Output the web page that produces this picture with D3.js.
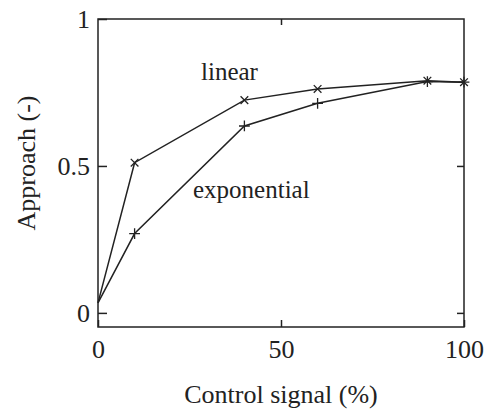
<!DOCTYPE html>
<html>
<head>
<meta charset="utf-8">
<script src="https://cdn.jsdelivr.net/npm/d3@7"></script>
<style>
  body { margin: 0; background: #fff; }
  svg text { font-family: "Liberation Serif", "DejaVu Serif", serif; fill: #222; }
</style>
</head>
<body>
<script>
//values
var controlSignal = [0, 10, 40, 60, 90, 100];
var linearApproach = [0.034, 0.511, 0.724, 0.762, 0.79, 0.785];
var expApproach = [0.034, 0.27, 0.636, 0.713, 0.787, 0.785];
var xTicks = [0, 50, 100];
var yTicks = [0, 0.5, 1];

(function(){

var width = 484, height = 414;
//plot box edges (note: "top" clashes with window.top, so prefixed)
var boxLeft = 98, boxRight = 464, boxTop = 19, boxBottom = 327;

var svg = d3.select("body").append("svg")
    .attr("width", width)
    .attr("height", height);

var x = d3.scaleLinear().domain([0, 100]).range([boxLeft, boxRight]);
var y = d3.scaleLinear().domain([-0.048, 1]).range([boxBottom, boxTop]);

//frame
svg.append("rect")
    .attr("x", boxLeft).attr("y", boxTop)
    .attr("width", boxRight - boxLeft).attr("height", boxBottom - boxTop)
    .attr("fill", "none").attr("stroke", "#222").attr("stroke-width", 1.5);

//axes with ticks pointing inward
svg.append("g")
    .attr("transform", "translate(0," + boxBottom + ")")
    .call(d3.axisBottom(x).tickValues(xTicks).tickFormat(d3.format("d"))
        .tickSizeInner(-7).tickSizeOuter(0).tickPadding(13));

svg.append("g")
    .attr("transform", "translate(" + boxLeft + ",0)")
    .call(d3.axisLeft(y).tickValues(yTicks).tickFormat(d3.format(""))
        .tickSizeInner(-9).tickSizeOuter(0).tickPadding(8));

svg.append("g")
    .attr("transform", "translate(" + boxRight + ",0)")
    .call(d3.axisRight(y).tickValues([0, 0.5]).tickFormat("")
        .tickSizeInner(-7).tickSizeOuter(0));

svg.append("g")
    .attr("transform", "translate(0," + boxTop + ")")
    .call(d3.axisTop(x).tickValues([50]).tickFormat("")
        .tickSizeInner(-6).tickSizeOuter(0));

svg.selectAll(".domain").remove();
svg.selectAll(".tick line").attr("stroke", "#222").attr("stroke-width", 1.5);
svg.selectAll(".tick text")
    .style("font-size", "26px")
    .style("font-family", "'Liberation Serif', serif")
    .attr("fill", "#222");

//axis titles
svg.append("text")
    .attr("x", 281).attr("y", 403)
    .attr("text-anchor", "middle")
    .style("font-size", "26px")
    .text("Control signal (%)");

svg.append("text")
    .attr("transform", "translate(35,163) rotate(-90)")
    .attr("text-anchor", "middle")
    .style("font-size", "26px")
    .text("Approach (-)");

//curves
var line = d3.line()
    .x(function(d){ return x(d[0]); })
    .y(function(d){ return y(d[1]); });

function drawSeries(vals, symbol){
    var pts = controlSignal.map(function(c, i){ return [c, vals[i]]; });
    svg.append("path")
        .datum(pts)
        .attr("d", line)
        .attr("fill", "none")
        .attr("stroke", "#222")
        .attr("stroke-width", 1.5);
    svg.selectAll(null)
        .data(pts.slice(1))
        .enter()
        .append("path")
        .attr("transform", function(d){ return "translate(" + x(d[0]) + "," + y(d[1]) + ")"; })
        .attr("d", d3.symbol().type(symbol).size(40))
        .attr("fill", "none")
        .attr("stroke", "#222")
        .attr("stroke-width", 1.3);
}

drawSeries(linearApproach, d3.symbolTimes);
drawSeries(expApproach, d3.symbolPlus);

//curve labels
svg.append("text")
    .attr("x", 201).attr("y", 80)
    .style("font-size", "25px")
    .text("linear");

svg.append("text")
    .attr("x", 193).attr("y", 198)
    .style("font-size", "25px")
    .text("exponential");

})();
</script>
</body>
</html>
